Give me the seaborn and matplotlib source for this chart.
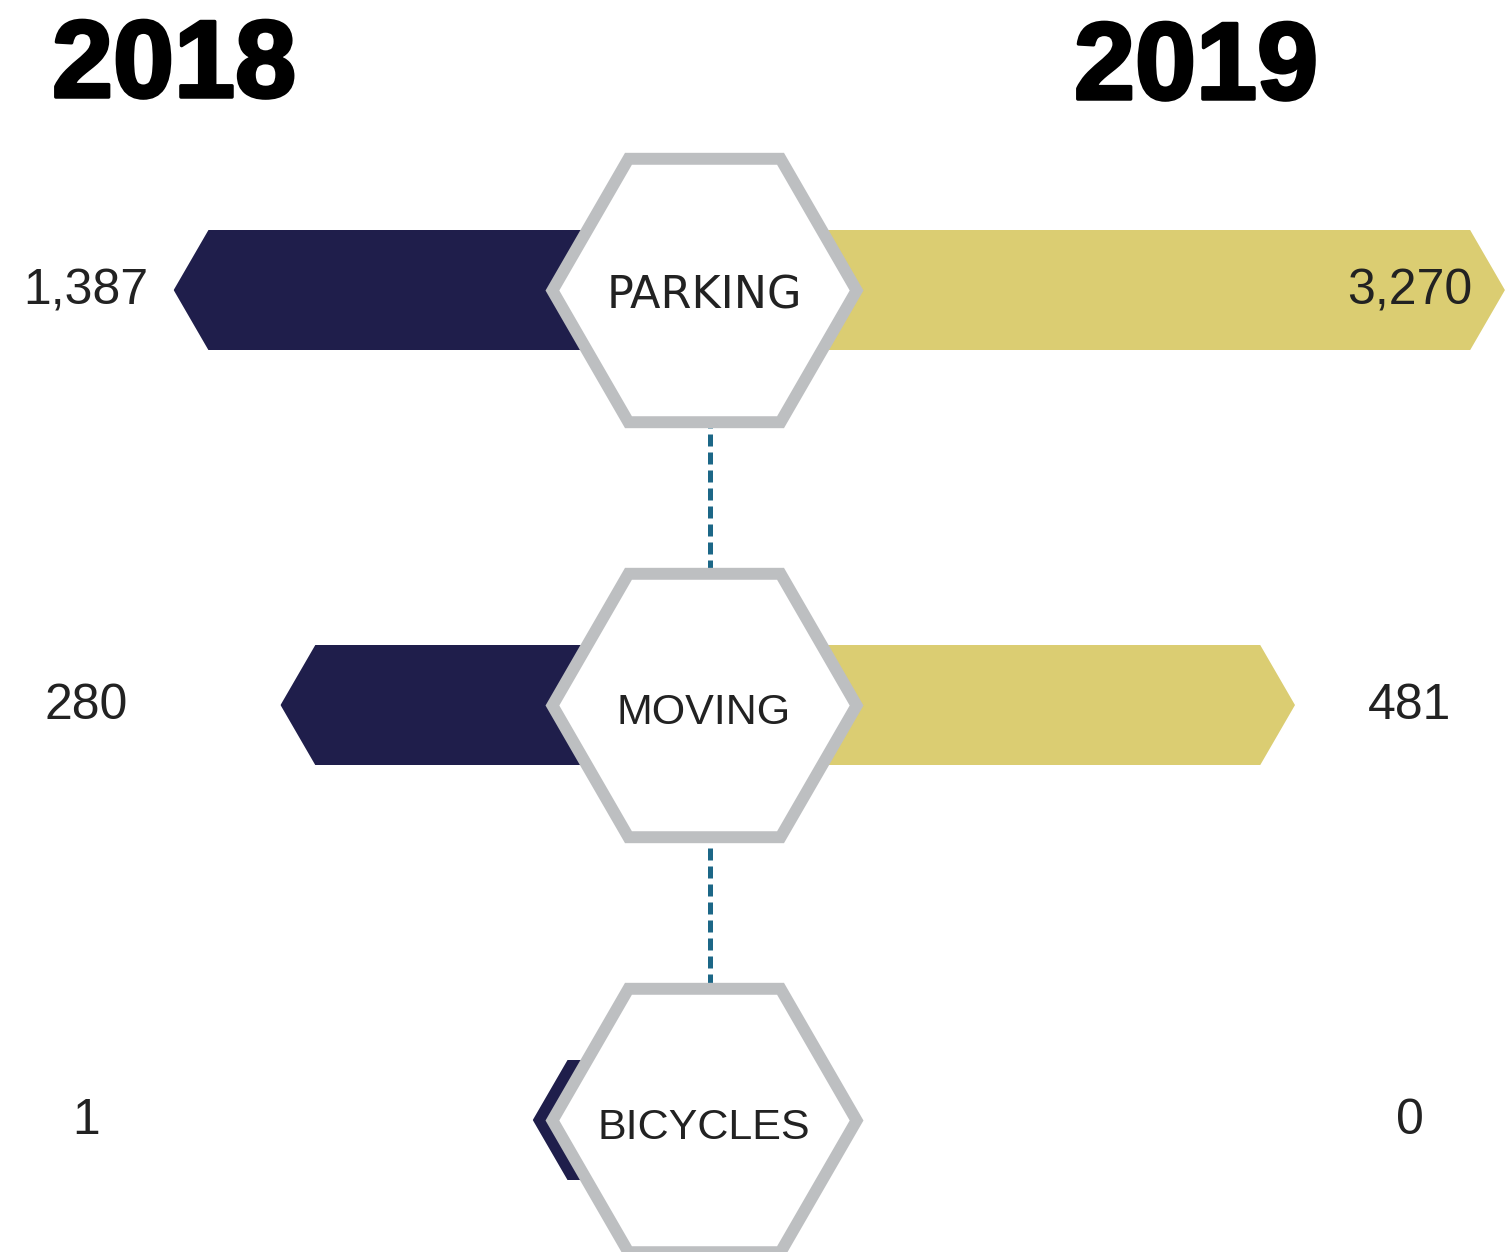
import numpy as np
import pandas as pd
import matplotlib.pyplot as plt
import matplotlib.transforms as mtransforms
import matplotlib.patheffects as pe
from matplotlib.patches import Polygon
import seaborn as sns

# Data
categories = ['PARKING', 'MOVING', 'BICYCLES']
values_2018 = [1387, 280, 1]
values_2019 = [3270, 481, 0]
labels_2018 = ['1,387', '280', '1']
labels_2019 = ['3,270', '481', '0']
years = ['2018', '2019']

# Colours
navy = '#1F1E4B'
gold = '#DBCD72'
hex_grey = '#BDBFC1'
teal = '#1C6787'
text_dark = '#222222'

sns.set_theme(style='white')
plt.rcParams['font.family'] = ['Liberation Sans', 'DejaVu Sans']

W, H, DPI = 1507, 1252, 100
fig = plt.figure(figsize=(W / DPI, H / DPI), dpi=DPI, facecolor='white')

# two half-axes that meet at the hexagon column
split = 704 / W
ax_l = fig.add_axes([0, 0, split, 1])
ax_r = fig.add_axes([split, 0, 1 - split, 1])

df18 = pd.DataFrame({'category': categories, 'count': values_2018})
df19 = pd.DataFrame({'category': categories, 'count': values_2019})

bar_w = 0.29
sns.barplot(data=df18, x='count', y='category', orient='h', color=navy,
            saturation=1, width=bar_w, linewidth=0, errorbar=None, ax=ax_l)
sns.barplot(data=df19, x='count', y='category', orient='h', color=gold,
            saturation=1, width=bar_w, linewidth=0, errorbar=None, ax=ax_r)

# compressed power scale so small and large counts both read
power = 0.115
fwd = lambda x: np.abs(x) ** power
inv = lambda x: np.abs(x) ** (1 / power)
for ax in (ax_l, ax_r):
    ax.set_xscale('function', functions=(fwd, inv))
    ax.set_ylim(2.318, -0.699)
    ax.set_facecolor('none')
    ax.axis('off')
ax_l.set_xlim(11210, 2.1e-4)
ax_r.set_xlim(0.0156, 3300)

# cut arrow heads into the bar ends (white wedges at both corners)
notch = 36
half = bar_w / 2
for ax, vals, sign in [(ax_l, values_2018, -1), (ax_r, values_2019, 1)]:
    for i, v in enumerate(vals):
        if v <= 0:
            continue
        mid = ax.transData.transform((v, i))
        for edge in (i - half, i + half):
            corner = ax.transData.transform((v, edge))
            pad = 2 if corner[1] > mid[1] else -2
            tri = [(corner[0] + sign * 3, corner[1] + pad),
                   (mid[0] + sign * 3, mid[1]),
                   (mid[0], mid[1]),
                   (corner[0] - sign * notch, corner[1] + pad)]
            ax.add_patch(Polygon(tri, closed=True, facecolor='white', edgecolor='white',
                                 lw=1.2, zorder=4, transform=mtransforms.IdentityTransform(),
                                 clip_on=False))

# dashed connector and hexagons in the centre column
col = mtransforms.blended_transform_factory(ax_r.transAxes, ax_r.transData)
ax_r.plot([0.0075, 0.0075], [0, len(categories) - 1], color=teal, lw=3.6,
          dashes=(2.4, 1.2), dash_capstyle='butt',
          transform=col, clip_on=False, zorder=3)
hexes = ax_r.scatter(np.zeros(len(categories)), np.arange(len(categories)), marker='H',
                     s=219 ** 2, facecolor='white', edgecolor=hex_grey, linewidths=8.6,
                     transform=col, clip_on=False, zorder=5)
hexes.set_joinstyle('miter')

name_fonts = {'PARKING': (['DejaVu Sans'], 32), 'MOVING': (['Liberation Sans'], 31),
              'BICYCLES': (['Liberation Sans'], 31)}
for i, name in enumerate(categories):
    fam, size = name_fonts[name]
    ax_r.text(0, i + 0.045, name, transform=col, ha='center', va='baseline',
              family=fam, fontsize=size, color=text_dark, zorder=6, clip_on=False)

# value labels
col_l = mtransforms.blended_transform_factory(ax_l.transAxes, ax_l.transData)
for i, lab in enumerate(labels_2018):
    ax_l.text(86 / 704, i + 0.034, lab, transform=col_l, ha='center', va='baseline',
              fontsize=36, color=text_dark, zorder=6)
for i, lab in enumerate(labels_2019):
    ax_r.text((1410 - 704) / 803, i + 0.034, lab, transform=col, ha='center', va='baseline',
              fontsize=36, color=text_dark, zorder=6)

# year headings
heavy = [pe.withStroke(linewidth=2.5, foreground='black')]
fig.text(52 / W, 1 - 97 / H, years[0], fontsize=79, fontweight='bold', color='black',
         ha='left', va='baseline', path_effects=heavy)
fig.text(1074 / W, 1 - 99 / H, years[1], fontsize=79, fontweight='bold', color='black',
         ha='left', va='baseline', path_effects=heavy)

fig.savefig('out.png', dpi=DPI, facecolor='white')
